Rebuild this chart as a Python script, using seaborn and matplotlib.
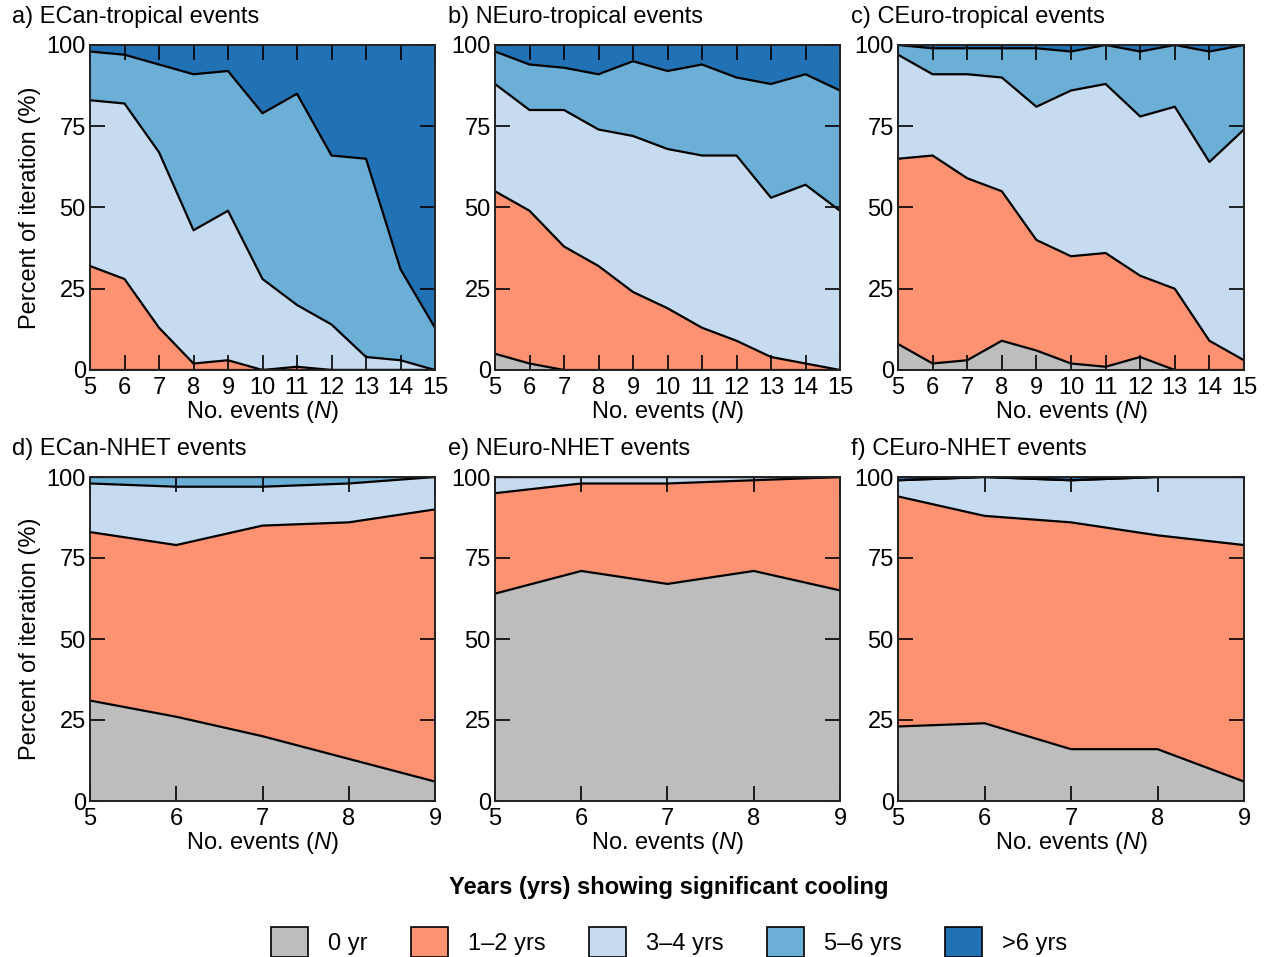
import matplotlib
matplotlib.use("Agg")
import matplotlib.pyplot as plt
from matplotlib.patches import Patch
import seaborn as sns
import numpy as np

# x values (No. events N)
n_trop = [5, 6, 7, 8, 9, 10, 11, 12, 13, 14, 15]
n_nhet = [5, 6, 7, 8, 9]

categories = ["0 yr", "1\u20132 yrs", "3\u20134 yrs", "5\u20136 yrs", ">6 yrs"]
colors = ["#bdbdbd", "#fc9272", "#c6dbef", "#6baed6", "#2171b5"]

# a) ECan-tropical (percent of iterations per class)
a_0 = [0, 0, 0, 0, 0, 0, 0, 0, 0, 0, 0]
a_12 = [32, 28, 13, 2, 3, 0, 1, 0, 0, 0, 0]
a_34 = [51, 54, 54, 41, 46, 28, 19, 14, 4, 3, 0]
a_56 = [15, 15, 27, 48, 43, 51, 65, 52, 61, 28, 13]
a_6p = [2, 3, 6, 9, 8, 21, 15, 34, 35, 69, 87]

# b) NEuro-tropical
b_0 = [5, 2, 0, 0, 0, 0, 0, 0, 0, 0, 0]
b_12 = [50, 47, 38, 32, 24, 19, 13, 9, 4, 2, 0]
b_34 = [33, 31, 42, 42, 48, 49, 53, 57, 49, 55, 49]
b_56 = [10, 14, 13, 17, 23, 24, 28, 24, 35, 34, 37]
b_6p = [2, 6, 7, 9, 5, 8, 6, 10, 12, 9, 14]

# c) CEuro-tropical
c_0 = [8, 2, 3, 9, 6, 2, 1, 4, 0, 0, 0]
c_12 = [57, 64, 56, 46, 34, 33, 35, 25, 25, 9, 3]
c_34 = [32, 25, 32, 35, 41, 51, 52, 49, 56, 55, 71]
c_56 = [3, 8, 8, 9, 18, 12, 12, 20, 19, 34, 26]
c_6p = [0, 1, 1, 1, 1, 2, 0, 2, 0, 2, 0]

# d) ECan-NHET
d_0 = [31, 26, 20, 13, 6]
d_12 = [52, 53, 65, 73, 84]
d_34 = [15, 18, 12, 12, 10]
d_56 = [2, 3, 3, 2, 0]
d_6p = [0, 0, 0, 0, 0]

# e) NEuro-NHET
e_0 = [64, 71, 67, 71, 65]
e_12 = [31, 27, 31, 28, 35]
e_34 = [5, 2, 2, 1, 0]
e_56 = [0, 0, 0, 0, 0]
e_6p = [0, 0, 0, 0, 0]

# f) CEuro-NHET
f_0 = [23, 24, 16, 16, 6]
f_12 = [71, 64, 70, 66, 73]
f_34 = [5, 12, 13, 18, 21]
f_56 = [0, 0, 0, 0, 0]
f_6p = [1, 0, 1, 0, 0]

titles = ["a) ECan-tropical events", "b) NEuro-tropical events", "c) CEuro-tropical events",
          "d) ECan-NHET events", "e) NEuro-NHET events", "f) CEuro-NHET events"]

sns.set_theme(style="ticks")
plt.rcParams["font.family"] = ["Liberation Sans", "DejaVu Sans"]
plt.rcParams["mathtext.fontset"] = "custom"
plt.rcParams["mathtext.it"] = "Liberation Sans:italic"
plt.rcParams["mathtext.rm"] = "Liberation Sans"
for key in ["text.color", "axes.labelcolor", "xtick.color", "ytick.color", "axes.edgecolor"]:
    plt.rcParams[key] = "black"

W, H = 1265, 957
fig = plt.figure(figsize=(W / 100, H / 100), dpi=100)

lefts = [90, 495, 898]
widths = [345, 345, 346]
rows = [(45, 370), (477, 801)]
FS = 17

panels = [
    (n_trop, [a_0, a_12, a_34, a_56, a_6p]),
    (n_trop, [b_0, b_12, b_34, b_56, b_6p]),
    (n_trop, [c_0, c_12, c_34, c_56, c_6p]),
    (n_nhet, [d_0, d_12, d_34, d_56, d_6p]),
    (n_nhet, [e_0, e_12, e_34, e_56, e_6p]),
    (n_nhet, [f_0, f_12, f_34, f_56, f_6p]),
]

for i, (xs, series) in enumerate(panels):
    r, c = divmod(i, 3)
    top, bot = rows[r]
    ax = fig.add_axes([lefts[c] / W, 1 - bot / H, widths[c] / W, (bot - top) / H])
    ax.set_axisbelow(False)
    ax.stackplot(xs, *series, colors=colors, edgecolor="none")
    # black boundary lines between classes
    cum = np.cumsum(np.array(series), axis=0)
    for k in range(4):
        sns.lineplot(x=xs, y=cum[k], ax=ax, color="black", linewidth=1.6)
    ax.set_xlim(xs[0], xs[-1])
    ax.set_ylim(0, 100)
    ax.set_xticks(xs)
    ax.set_yticks([0, 25, 50, 75, 100])
    ax.tick_params(direction="in", length=11, width=1.2, top=True, right=True,
                   labelsize=FS, pad=3, colors="black")
    ax.tick_params(axis="x", pad=5)
    for sp in ax.spines.values():
        sp.set_linewidth(1.4)
        sp.set_color("#222222")
        sp.set_zorder(5)
    ax.set_xlabel(r"No. events ($\it{N}$)", fontsize=FS, labelpad=0)
    ax.set_ylabel("")
    if c == 0:
        ax.set_ylabel("Percent of iteration (%)", fontsize=FS, labelpad=4)
    tx = 12 if c == 0 else lefts[c] - 47
    fig.text(tx / W, 1 - (top - 28) / H, titles[i], fontsize=FS, ha="left", va="center")

handles = [Patch(facecolor=col, edgecolor="black", linewidth=1.2) for col in colors]
leg = fig.legend(handles, categories, loc="upper center", bbox_to_anchor=(0.529, 1 - 867 / H),
                 ncol=5, frameon=False, fontsize=FS, handlelength=1.55, handleheight=1.55,
                 handletextpad=0.85, columnspacing=1.85, borderaxespad=0,
                 title="Years (yrs) showing significant cooling",
                 title_fontproperties={"weight": "bold", "size": FS})
leg._legend_box.sep = 20

fig.savefig("out.png", dpi=100)
